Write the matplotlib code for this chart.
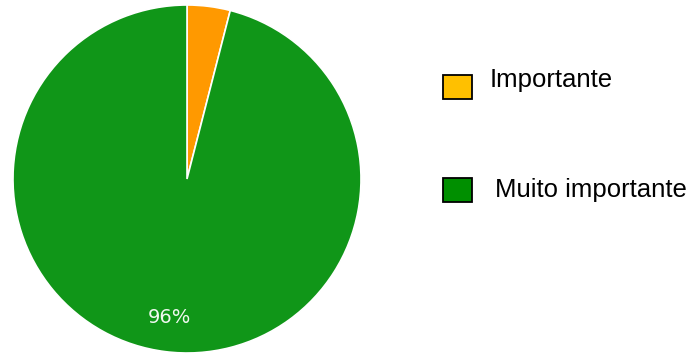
import matplotlib
matplotlib.use("Agg")
import matplotlib.pyplot as plt
from matplotlib.patches import Rectangle

categories = ["Importante", "Muito importante"]
values = [4, 96]
slice_colors = ["#FF9900", "#109618"]
legend_colors = ["#FFC000", "#008F00"]

W, H = 698, 353
fig = plt.figure(figsize=(W / 100, H / 100), dpi=100)
fig.patch.set_facecolor("white")

cx, cy, r = 187, 179, 174
ax = fig.add_axes([(cx - r) / W, (H - cy - r) / H, 2 * r / W, 2 * r / H])


def fmt(p):
    return f"{p:.0f}%" if p > 10 else ""


wedges, texts, autotexts = ax.pie(
    values, colors=slice_colors, startangle=90, counterclock=False,
    radius=1, autopct=fmt, pctdistance=0.8,
    wedgeprops=dict(edgecolor="white", linewidth=1.2),
    textprops=dict(color="#f0f8f0", fontsize=14, family="DejaVu Sans"))
ax.set_xlim(-1, 1)
ax.set_ylim(-1, 1)
ax.set_aspect("auto")
ax.axis("off")

# legend
legend_y = [87, 190]
text_x = [490, 495]
text_y = [80, 190]
for i, cat in enumerate(categories):
    y = legend_y[i]
    fig.patches.append(Rectangle((443 / W, (H - y - 12) / H), 29 / W, 24 / H,
                                 transform=fig.transFigure, facecolor=legend_colors[i],
                                 edgecolor="black", linewidth=1.3))
    fig.text(text_x[i] / W, (H - text_y[i]) / H, cat, fontsize=18.5,
             family="Liberation Sans", va="center", ha="left", color="black")

fig.savefig("out.png", dpi=100, facecolor="white")
